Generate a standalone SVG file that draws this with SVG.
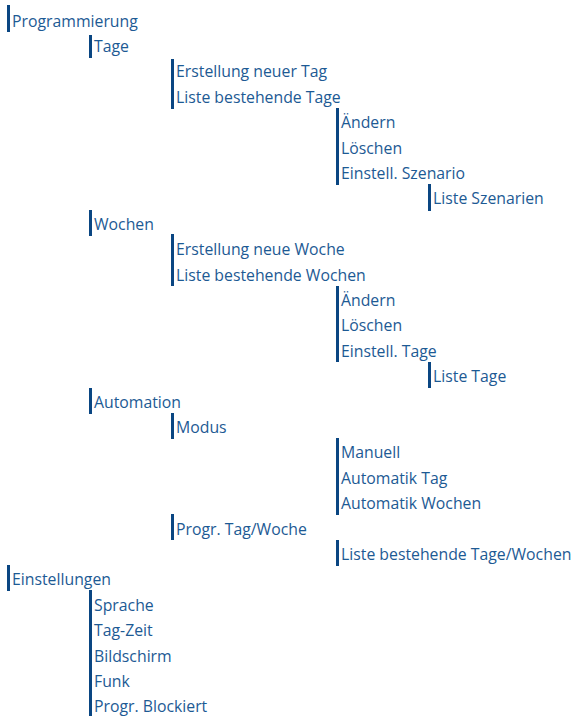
<svg xmlns="http://www.w3.org/2000/svg" width="574" height="716" viewBox="0 0 574 716">
<style>
text{font-family:"Open Sans","Noto Sans","DejaVu Sans",sans-serif;font-size:15.8px;fill:#1d5a94}
.bar{fill:#0a4682}
</style>
<rect width="574" height="716" fill="#fff"/>
<g id="connectors">
<rect class="bar" x="7" y="5" width="3" height="27"/>
<rect class="bar" x="7" y="565" width="3" height="26"/>
<rect class="bar" x="89" y="35" width="3" height="23"/>
<rect class="bar" x="89" y="210" width="3" height="26"/>
<rect class="bar" x="89" y="388" width="3" height="26"/>
<rect class="bar" x="89" y="590" width="3" height="126"/>
<rect class="bar" x="171" y="59" width="3" height="50"/>
<rect class="bar" x="171" y="234" width="3" height="52"/>
<rect class="bar" x="171" y="413" width="3" height="26"/>
<rect class="bar" x="171" y="514" width="3" height="26"/>
<rect class="bar" x="336" y="108" width="3" height="77"/>
<rect class="bar" x="336" y="286" width="3" height="76"/>
<rect class="bar" x="336" y="438" width="3" height="77"/>
<rect class="bar" x="336" y="540" width="3" height="26"/>
<rect class="bar" x="428" y="184" width="3" height="27"/>
<rect class="bar" x="428" y="362" width="3" height="26"/>
</g>
<g id="n0"><text x="12" y="26.5">Programmierung</text></g>
<g id="n1"><text x="94" y="51.9">Tage</text></g>
<g id="n2"><text x="176" y="77.3">Erstellung neuer Tag</text></g>
<g id="n3"><text x="176" y="102.7">Liste bestehende Tage</text></g>
<g id="n4"><text x="341" y="128.1">Ändern</text></g>
<g id="n5"><text x="341" y="153.5">Löschen</text></g>
<g id="n6"><text x="341" y="178.9">Einstell. Szenario</text></g>
<g id="n7"><text x="433" y="204.3">Liste Szenarien</text></g>
<g id="n8"><text x="94" y="229.7">Wochen</text></g>
<g id="n9"><text x="176" y="255.1">Erstellung neue Woche</text></g>
<g id="n10"><text x="176" y="280.5">Liste bestehende Wochen</text></g>
<g id="n11"><text x="341" y="305.9">Ändern</text></g>
<g id="n12"><text x="341" y="331.3">Löschen</text></g>
<g id="n13"><text x="341" y="356.7">Einstell. Tage</text></g>
<g id="n14"><text x="433" y="382.1">Liste Tage</text></g>
<g id="n15"><text x="94" y="407.5">Automation</text></g>
<g id="n16"><text x="176" y="432.9">Modus</text></g>
<g id="n17"><text x="341" y="458.3">Manuell</text></g>
<g id="n18"><text x="341" y="483.7">Automatik Tag</text></g>
<g id="n19"><text x="341" y="509.1">Automatik Wochen</text></g>
<g id="n20"><text x="176" y="534.5">Progr. Tag/Woche</text></g>
<g id="n21"><text x="341" y="559.9">Liste bestehende Tage/Wochen</text></g>
<g id="n22"><text x="12" y="585.3">Einstellungen</text></g>
<g id="n23"><text x="94" y="610.7">Sprache</text></g>
<g id="n24"><text x="94" y="636.1">Tag-Zeit</text></g>
<g id="n25"><text x="94" y="661.5">Bildschirm</text></g>
<g id="n26"><text x="94" y="686.9">Funk</text></g>
<g id="n27"><text x="94" y="712.3">Progr. Blockiert</text></g>
</svg>
